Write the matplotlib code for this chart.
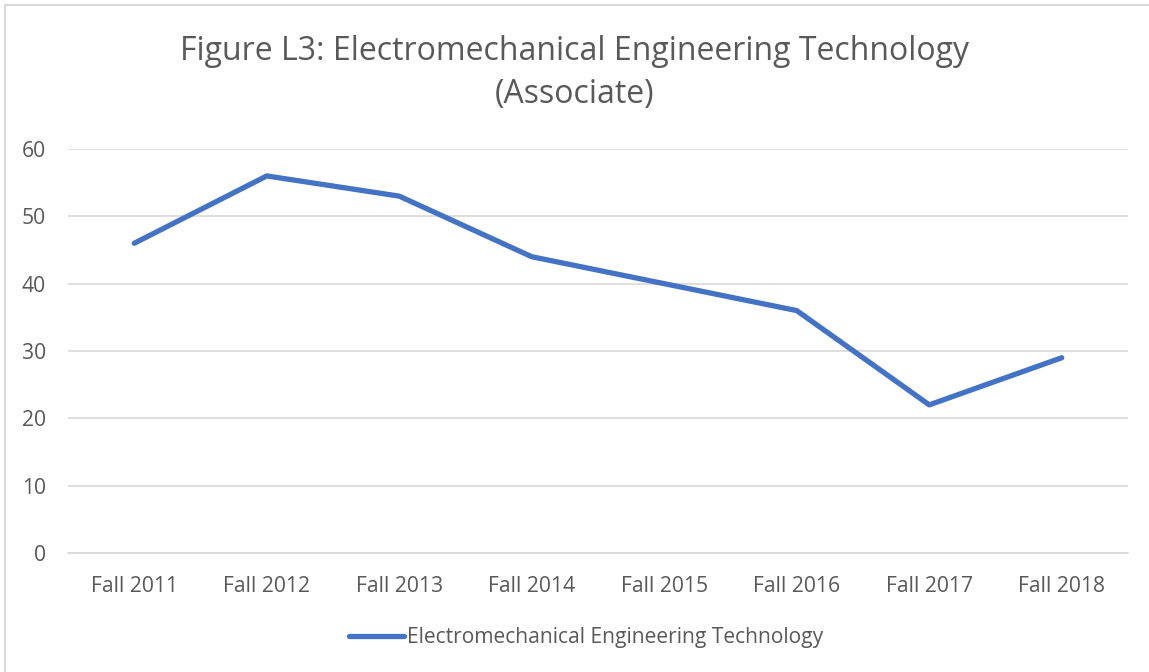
import matplotlib.pyplot as plt
from matplotlib.patches import Rectangle

# data
terms = ["Fall 2011", "Fall 2012", "Fall 2013", "Fall 2014",
         "Fall 2015", "Fall 2016", "Fall 2017", "Fall 2018"]
enrollment = [46, 56, 53, 44, 40, 36, 22, 29]
series_name = "Electromechanical Engineering Technology"

plt.rcParams['font.family'] = ['Open Sans', 'DejaVu Sans']
text_gray = "#595959"
grid_gray = "#d9d9d9"
blue = "#4472c4"

fig = plt.figure(figsize=(11.49, 6.72), dpi=100)
ax = fig.add_axes([68 / 1149, 1 - 553 / 672, (1128 - 68) / 1149, (553 - 149) / 672])

x = list(range(len(terms)))
ax.plot(x, enrollment, color=blue, lw=3.8, solid_capstyle="round",
        solid_joinstyle="round", label=series_name)

ax.set_xlim(-0.5, len(terms) - 0.5)
ax.set_ylim(0, 60)
ax.set_yticks(range(0, 61, 10))
ax.set_xticks(x)
ax.set_xticklabels(terms)
ax.yaxis.grid(True, color=grid_gray, lw=1.2)
ax.set_axisbelow(True)
for s in ["top", "right", "left"]:
    ax.spines[s].set_visible(False)
ax.spines["bottom"].set_color(grid_gray)
ax.spines["bottom"].set_linewidth(1.2)
ax.tick_params(length=0, labelsize=15.2, colors=text_gray)
ax.tick_params(axis="x", pad=16.5)
ax.tick_params(axis="y", pad=16)

fig.text(0.5, 1 - 73 / 672, "Figure L3: Electromechanical Engineering Technology\n(Associate)",
         ha="center", va="center", fontsize=23, color=text_gray, linespacing=1.42)

leg = fig.legend(loc="center", bbox_to_anchor=(586 / 1149, 1 - 638 / 672), frameon=False,
                 fontsize=15.1, handlelength=2.6, handletextpad=0.15)
for t in leg.get_texts():
    t.set_color(text_gray)

# chart border
fig.patches.append(Rectangle((5 / 1149, -0.01), 1.02, 1 - 5 / 672 + 0.01,
                             transform=fig.transFigure, fill=False,
                             edgecolor=grid_gray, lw=1.5))

fig.savefig("out.png", dpi=100)
